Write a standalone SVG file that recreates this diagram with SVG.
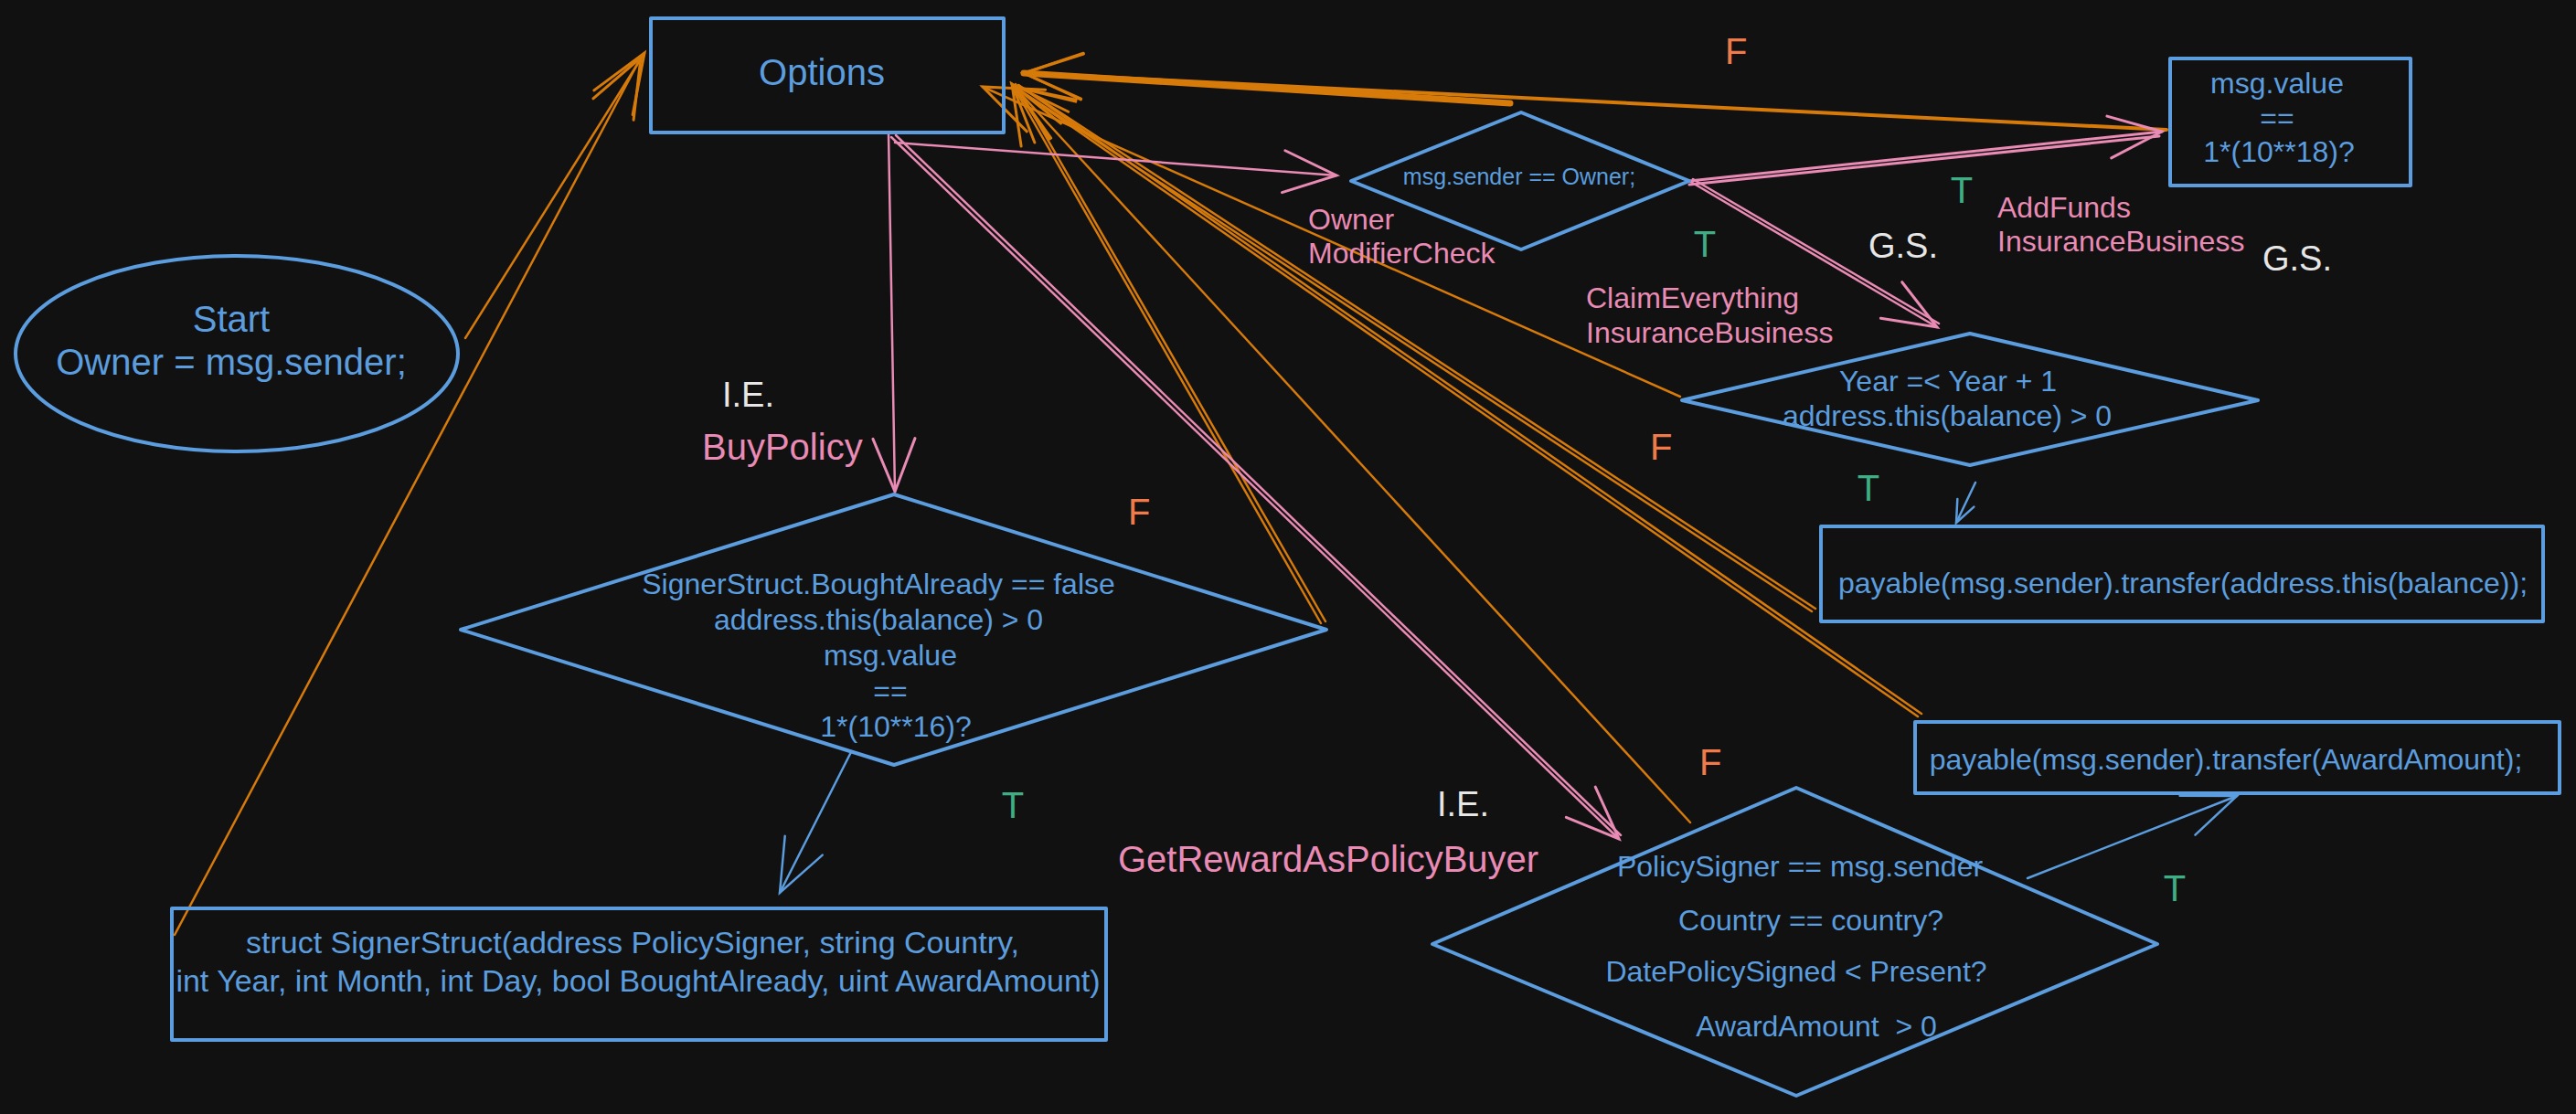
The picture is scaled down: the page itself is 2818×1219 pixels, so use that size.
<svg xmlns="http://www.w3.org/2000/svg" width="2818" height="1219" viewBox="0 0 2818 1219">
<style>
.bg{fill:#111111}
.shape{fill:none;stroke:#5b9dde;stroke-width:4;stroke-linejoin:round}
.nt{fill:#5b9dde;font-family:"Liberation Sans",Arial,sans-serif;font-size:32px}
.big{font-size:40px}
.lbl{font-family:"Liberation Sans",Arial,sans-serif;font-size:40px}
.pk{fill:#e98bb4;font-family:"Liberation Sans",Arial,sans-serif;font-size:32px}
.wh{fill:#e6e6e6}
.ff{fill:#f07a4a}
.tt{fill:#3fae84}
.pinkL{fill:#e98bb4}
.mid{text-anchor:middle}
.co{fill:none;stroke:#d67a0a;stroke-width:2.5;stroke-linecap:round}
.cp{fill:none;stroke:#e98bb4;stroke-width:2.5;stroke-linecap:round}
.cb{fill:none;stroke:#5b9dde;stroke-width:2.5;stroke-linecap:round}
</style>
<defs>
<marker id="ao" markerUnits="userSpaceOnUse" markerWidth="90" markerHeight="90" viewBox="-80 -45 90 90" refX="0" refY="0" orient="auto" overflow="visible">
<path d="M-64,-25 L0,0 L-64,25" fill="none" stroke="#d67a0a" stroke-width="3" stroke-linecap="round"/>
</marker>
<marker id="ap" markerUnits="userSpaceOnUse" markerWidth="90" markerHeight="90" viewBox="-80 -45 90 90" refX="0" refY="0" orient="auto" overflow="visible">
<path d="M-58,-23 L0,0 L-58,23" fill="none" stroke="#e98bb4" stroke-width="3" stroke-linecap="round"/>
</marker>
<marker id="ab" markerUnits="userSpaceOnUse" markerWidth="90" markerHeight="90" viewBox="-80 -45 90 90" refX="0" refY="0" orient="auto" overflow="visible">
<path d="M-58,-23 L0,0 L-58,23" fill="none" stroke="#5b9dde" stroke-width="2.5" stroke-linecap="round"/>
</marker>
<marker id="abs" markerUnits="userSpaceOnUse" markerWidth="40" markerHeight="40" viewBox="-30 -20 40 40" refX="0" refY="0" orient="auto" overflow="visible">
<path d="M-24,-10 L0,0 L-24,10" fill="none" stroke="#5b9dde" stroke-width="2.5" stroke-linecap="round"/>
</marker>
</defs>
<rect class="bg" x="0" y="0" width="2818" height="1219"/>

<g id="connectors">
<!-- orange F flows back to Options -->
<path class="co" d="M509,370 L705,58" marker-end="url(#ao)"/>
<path class="co" d="M191,1023 L701,63" marker-end="url(#ao)"/>
<path class="co" style="stroke-width:4" d="M2370,142 L1120,80" marker-end="url(#ao)"/>
<path class="co" style="stroke-width:7" d="M1652,113 L1120,80" marker-end="url(#ao)"/>
<path class="co" d="M1838,434 L1075,95" marker-end="url(#ao)"/>
<path class="co" d="M1445,682 L1107,92" marker-end="url(#ao)"/>
<path class="co" d="M1450,680 L1111,92"/>
<path class="co" d="M1849,900 L1107,92" marker-end="url(#ao)"/>
<path class="co" d="M1982,669 L1110,95" marker-end="url(#ao)"/>
<path class="co" d="M1986,666 L1114,93"/>
<path class="co" d="M2098,784 L1110,95" marker-end="url(#ao)"/>
<path class="co" d="M2102,781 L1114,93"/>
<!-- pink flows from Options -->
<path class="cp" d="M972,146 L979,538" marker-end="url(#ap)"/>
<path class="cp" d="M979,156 L1462,192" marker-end="url(#ap)"/>
<path class="cp" d="M975,150 L1771,918" marker-end="url(#ap)"/>
<path class="cp" d="M980,148 L1773,914"/>
<path class="cp" style="stroke-width:3" d="M1848,198 L2365,144" marker-end="url(#ap)"/>
<path class="cp" style="stroke-width:3" d="M1848,202 L2362,149"/>
<path class="cp" d="M1848,198 L2119,358" marker-end="url(#ap)"/>
<path class="cp" d="M1852,196 L2121,354"/>
<!-- blue T flows -->
<path class="cb" d="M931,823 L853,977" marker-end="url(#ab)"/>
<path class="cb" d="M2161,528 L2140,572" marker-end="url(#abs)"/>
<path class="cb" d="M2218,961 L2447,871" marker-end="url(#ab)"/>
</g>

<g id="start">
<ellipse class="shape" cx="259" cy="387" rx="242" ry="107"/>
<text class="nt big mid" x="253" y="363">Start</text>
<text class="nt big mid" x="253" y="410">Owner = msg.sender;</text>
</g>

<g id="options">
<rect class="shape" x="712" y="20" width="386" height="125"/>
<text class="nt big mid" x="899" y="93">Options</text>
</g>

<g id="owner-check">
<polygon class="shape" points="1664,123 1848,198 1664,273 1478,198"/>
<text class="nt mid" style="font-size:25px" x="1662" y="202">msg.sender == Owner;</text>
</g>

<g id="msg-value-18">
<rect class="shape" x="2374" y="64" width="263" height="139"/>
<text class="nt mid" x="2491" y="102">msg.value</text>
<text class="nt mid" x="2491" y="140">==</text>
<text class="nt mid" x="2493" y="177">1*(10**18)?</text>
</g>

<g id="year-check">
<polygon class="shape" points="2155,365 2470,438 2155,509 1840,438"/>
<text class="nt mid" x="2131" y="428">Year =&lt; Year + 1</text>
<text class="nt mid" x="2130" y="466">address.this(balance) &gt; 0</text>
</g>

<g id="transfer-balance">
<rect class="shape" x="1992" y="576" width="790" height="104"/>
<text class="nt mid" x="2388" y="649">payable(msg.sender).transfer(address.this(balance));</text>
</g>

<g id="buy-check">
<polygon class="shape" points="978,541 1451,689 978,837 504,689"/>
<text class="nt mid" x="961" y="650">SignerStruct.BoughtAlready == false</text>
<text class="nt mid" x="961" y="689">address.this(balance) &gt; 0</text>
<text class="nt mid" x="974" y="728">msg.value</text>
<text class="nt mid" x="974" y="767">==</text>
<text class="nt mid" x="980" y="806">1*(10**16)?</text>
</g>

<g id="signer-struct">
<rect class="shape" x="188" y="994" width="1022" height="144"/>
<text class="nt mid" style="font-size:34px" x="692" y="1043">struct SignerStruct(address PolicySigner, string Country,</text>
<text class="nt mid" style="font-size:34px" x="698" y="1085">int Year, int Month, int Day, bool BoughtAlready, uint AwardAmount)</text>
</g>

<g id="transfer-award">
<rect class="shape" x="2095" y="790" width="705" height="78"/>
<text class="nt mid" x="2435" y="842">payable(msg.sender).transfer(AwardAmount);</text>
</g>

<g id="reward-check">
<polygon class="shape" points="1965,862 2360,1033 1965,1199 1567,1033"/>
<text class="nt mid" x="1969" y="959">PolicySigner == msg.sender</text>
<text class="nt mid" x="1981" y="1018">Country == country?</text>
<text class="nt mid" x="1965" y="1074">DatePolicySigned &lt; Present?</text>
<text class="nt mid" x="1987" y="1134" xml:space="preserve">AwardAmount  &gt; 0</text>
</g>

<g id="labels">
<text class="lbl wh" style="font-size:38px" x="790" y="445">I.E.</text>
<text class="lbl pinkL" x="768" y="503">BuyPolicy</text>
<text class="lbl ff" x="1887" y="70">F</text>
<text class="lbl tt mid" x="2146" y="222">T</text>
<text class="lbl tt mid" x="1865" y="281">T</text>
<text class="pk" x="1431" y="251">Owner</text>
<text class="pk" x="1431" y="288">ModifierCheck</text>
<text class="lbl wh" style="font-size:38px" x="2044" y="282">G.S.</text>
<text class="pk" x="2185" y="238">AddFunds</text>
<text class="pk" x="2185" y="275">InsuranceBusiness</text>
<text class="lbl wh" style="font-size:38px" x="2475" y="296">G.S.</text>
<text class="pk" x="1735" y="337">ClaimEverything</text>
<text class="pk" x="1735" y="375">InsuranceBusiness</text>
<text class="lbl ff" x="1805" y="503">F</text>
<text class="lbl tt mid" x="2044" y="548">T</text>
<text class="lbl ff" x="1234" y="574">F</text>
<text class="lbl tt mid" x="1108" y="895">T</text>
<text class="lbl pinkL" x="1223" y="954">GetRewardAsPolicyBuyer</text>
<text class="lbl ff" x="1859" y="848">F</text>
<text class="lbl wh" style="font-size:38px" x="1572" y="893">I.E.</text>
<text class="lbl tt mid" x="2379" y="986">T</text>
</g>
</svg>
